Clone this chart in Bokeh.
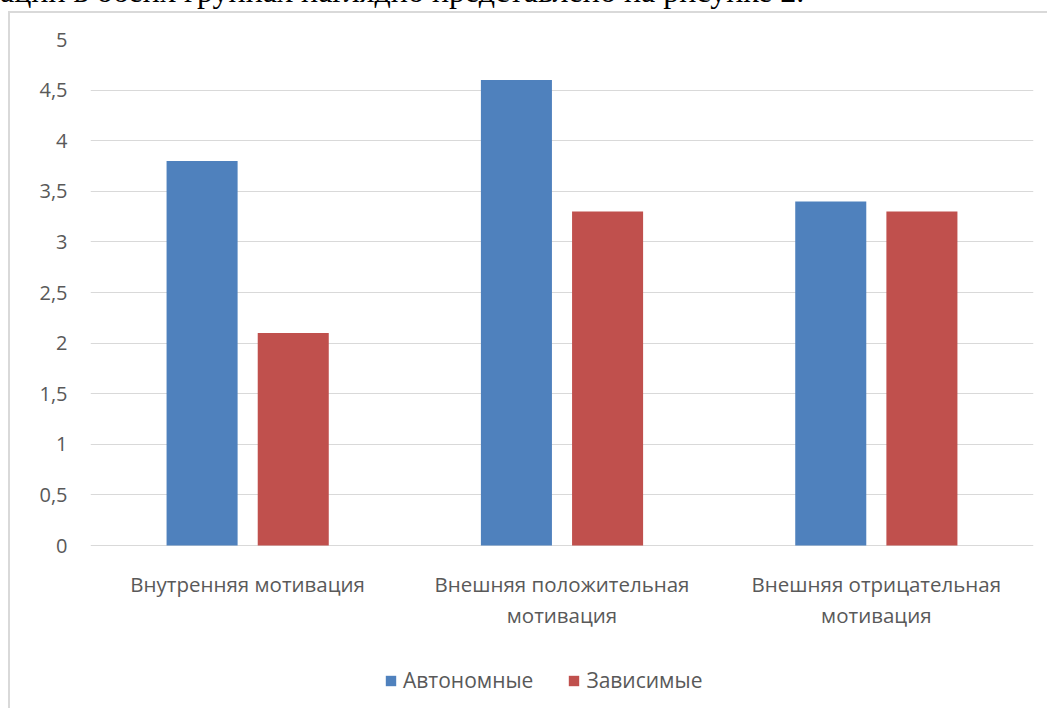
from bokeh.plotting import figure
from bokeh.layouts import column
from bokeh.core.properties import value
from bokeh.models import (FactorRange, Range1d, ColumnDataSource, Legend, LegendItem,
                          FixedTicker, Div)
from bokeh.transform import dodge
from bokeh.embed import file_html
from bokeh.resources import INLINE

# Data
categories = ["Внутренняя мотивация",
              "Внешняя положительная\nмотивация",
              "Внешняя отрицательная\nмотивация"]
series_names = ["Автономные", "Зависимые"]
autonomous = [3.8, 4.6, 3.4]
dependent = [2.1, 3.3, 3.3]
y_ticks = [0, 0.5, 1, 1.5, 2, 2.5, 3, 3.5, 4, 4.5, 5]
y_tick_labels = ["0", "0,5", "1", "1,5", "2", "2,5", "3", "3,5", "4", "4,5", "5"]
caption = "ации в обеих группах наглядно представлено на рисунке 2."

BLUE = "#4F81BD"
RED = "#C0504D"
GRID = "#D9D9D9"
TEXT = "#595959"
FONT = "Open Sans"

source = ColumnDataSource(dict(cat=categories, a=autonomous, d=dependent))

# The plot area reaches down to the bottom edge so that category captions and
# the legend sit inside it, below the zero line.
p = figure(x_range=FactorRange(*categories, range_padding=0),
           y_range=Range1d(-1.6304, 5),
           width=1039, height=697,
           output_backend="svg", toolbar_location=None,
           min_border_left=80, min_border_right=16,
           min_border_top=26, min_border_bottom=0,
           margin=(0, 0, 0, 10),
           styles={"box-shadow": "-2px -2px 0 0 #D9D9D9"})
p.outline_line_color = None
p.background_fill_color = "white"
p.border_fill_color = "white"

bar_w = 0.226
off = 0.145
r_a = p.vbar(x=dodge("cat", -off, range=p.x_range), top="a", width=bar_w,
             source=source, fill_color=BLUE, line_color=None)
r_d = p.vbar(x=dodge("cat", off, range=p.x_range), top="d", width=bar_w,
             source=source, fill_color=RED, line_color=None)

# Category captions under the zero line
p.text(x="cat", y=-0.247, text="cat", source=source,
       text_font=value(FONT), text_font_size=value("20.5px"), text_color=TEXT,
       text_align="center", text_baseline="top", text_line_height=1.1)

# Y axis
p.yaxis.ticker = FixedTicker(ticks=y_ticks)
p.yaxis.major_label_overrides = {t: l for t, l in zip(y_ticks, y_tick_labels)}
p.yaxis.axis_line_color = None
p.yaxis.major_tick_line_color = None
p.yaxis.minor_tick_line_color = None
p.yaxis.major_tick_out = 0
p.yaxis.major_tick_in = 0
p.yaxis.major_label_standoff = 23
p.yaxis.major_label_text_font = FONT
p.yaxis.major_label_text_font_size = "20px"
p.yaxis.major_label_text_color = TEXT

p.xaxis.visible = False
p.ygrid.grid_line_color = GRID
p.xgrid.grid_line_color = None

# Legend under the category captions
legend = Legend(items=[LegendItem(label=series_names[0], renderers=[r_a]),
                       LegendItem(label=series_names[1], renderers=[r_d])],
                orientation="horizontal", location=(294, 16),
                glyph_width=13, glyph_height=13, label_standoff=6, spacing=34,
                padding=0, margin=0,
                label_text_font=FONT, label_text_font_size="21px",
                label_text_color=TEXT,
                background_fill_alpha=0, border_line_alpha=0)
p.add_layout(legend)

# Tail of the preceding text line, clipped at the top of the page
head = Div(text=('<div style="position:absolute;left:0;top:-25px;white-space:nowrap;'
                 'font-family:\'Liberation Serif\';font-size:32px;line-height:32px;'
                 'color:black;">' + caption + '</div>'),
           width=1049, height=13, margin=0,
           styles={"overflow": "hidden", "position": "relative"})

layout = column(head, p, spacing=0)
open("out.html", "w").write(file_html(layout, INLINE))
